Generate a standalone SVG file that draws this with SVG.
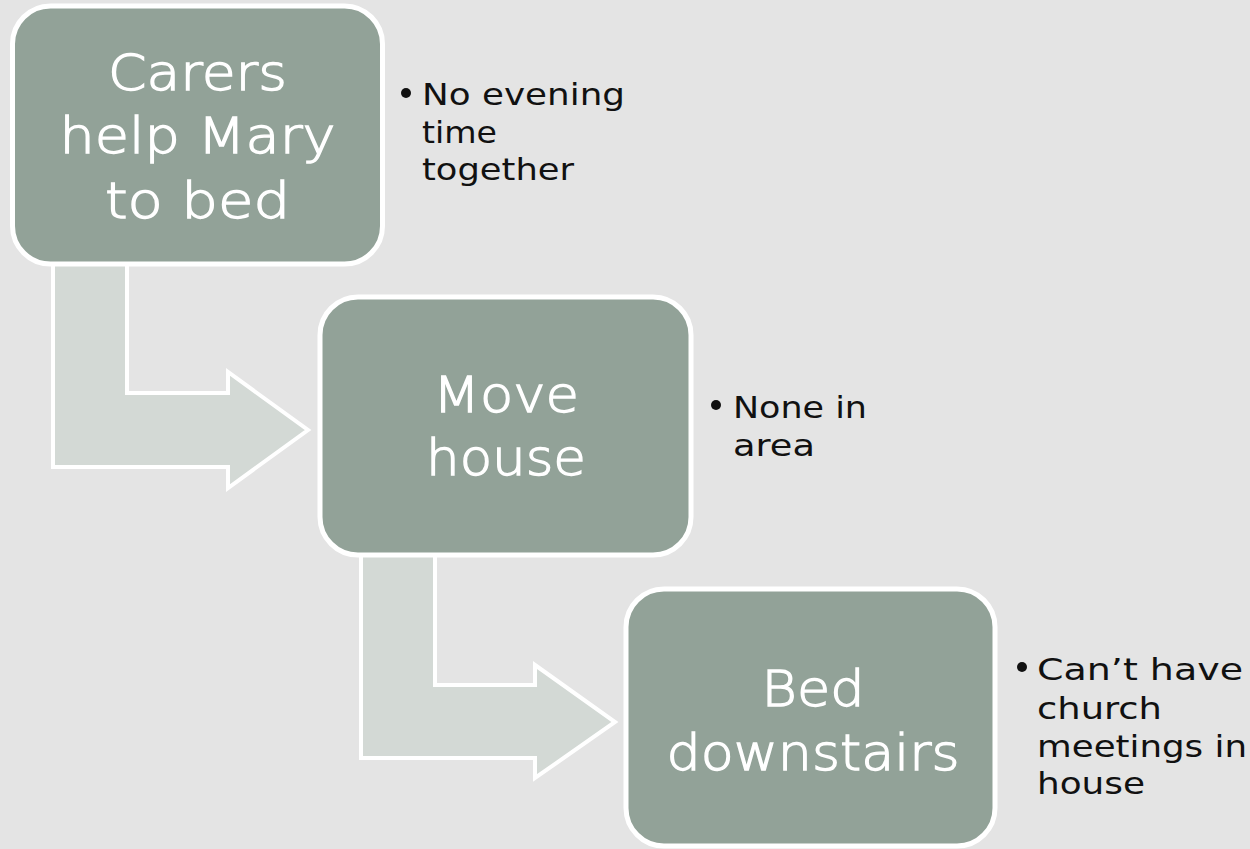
<svg xmlns="http://www.w3.org/2000/svg" width="1250" height="849" viewBox="0 0 1250 849">
  <style>
    .box { fill: #92A298; stroke: #FFFFFF; stroke-width: 5; }
    .arrow { fill: #D3D9D5; stroke: #FFFFFF; stroke-width: 4; stroke-linejoin: miter; }
    .main { font-family: "DejaVu Sans", "Liberation Sans", sans-serif; font-weight: 200; font-size: 50px; fill: #FFFFFF; stroke: #FFFFFF; stroke-width: 1.3; text-anchor: middle; }
    .note { font-family: "DejaVu Sans", "Liberation Sans", sans-serif; font-size: 31px; fill: #111111; }
    .dot { fill: #111111; }
  </style>
  <rect x="0" y="0" width="1250" height="849" fill="#E4E4E4"/>

  <g id="connectors">
    <polygon class="arrow" points="53,250 127,250 127,393 228,393 228,372 308,430 228,488 228,467 53,467"/>
    <polygon class="arrow" points="361,540 435,540 435,685 535,685 535,665 615,722 535,778 535,758 361,758"/>
  </g>

  <g id="node1">
    <rect class="box" x="12.5" y="6" width="370" height="258" rx="38" ry="38"/>
    <text class="main" x="197.5" y="90" textLength="179" lengthAdjust="spacingAndGlyphs">Carers</text>
    <text class="main" x="197.5" y="153" textLength="276" lengthAdjust="spacingAndGlyphs">help Mary</text>
    <text class="main" x="197.5" y="218" textLength="185" lengthAdjust="spacingAndGlyphs">to bed</text>
    <circle class="dot" cx="406" cy="93" r="5"/>
    <text class="note" x="422" y="105" textLength="203" lengthAdjust="spacingAndGlyphs">No evening</text>
    <text class="note" x="422" y="143" textLength="75" lengthAdjust="spacingAndGlyphs">time</text>
    <text class="note" x="422" y="180" textLength="152" lengthAdjust="spacingAndGlyphs">together</text>
  </g>

  <g id="node2">
    <rect class="box" x="320" y="297" width="371" height="258" rx="38" ry="38"/>
    <text class="main" x="506" y="412" textLength="146" lengthAdjust="spacingAndGlyphs">Move</text>
    <text class="main" x="506" y="475" textLength="160" lengthAdjust="spacingAndGlyphs">house</text>
    <circle class="dot" cx="716" cy="405" r="5"/>
    <text class="note" x="733" y="418" textLength="134" lengthAdjust="spacingAndGlyphs">None in</text>
    <text class="note" x="733" y="456" textLength="82" lengthAdjust="spacingAndGlyphs">area</text>
  </g>

  <g id="node3">
    <rect class="box" x="626" y="589" width="369" height="257" rx="38" ry="38"/>
    <text class="main" x="813" y="706" textLength="103" lengthAdjust="spacingAndGlyphs">Bed</text>
    <text class="main" x="813" y="770" textLength="293" lengthAdjust="spacingAndGlyphs">downstairs</text>
    <circle class="dot" cx="1022" cy="667" r="5"/>
    <text class="note" x="1037" y="680" textLength="206" lengthAdjust="spacingAndGlyphs">Can’t have</text>
    <text class="note" x="1037" y="719" textLength="125" lengthAdjust="spacingAndGlyphs">church</text>
    <text class="note" x="1037" y="757" textLength="210" lengthAdjust="spacingAndGlyphs">meetings in</text>
    <text class="note" x="1037" y="794" textLength="108" lengthAdjust="spacingAndGlyphs">house</text>
  </g>
</svg>
